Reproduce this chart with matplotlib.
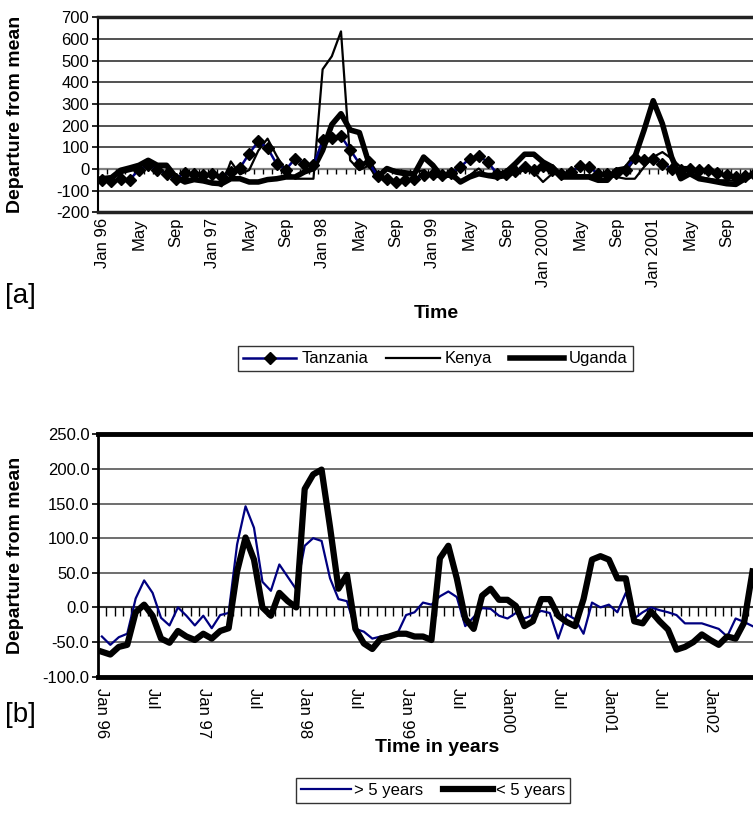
import numpy as np
import matplotlib
matplotlib.use("Agg")
import matplotlib.pyplot as plt
from matplotlib.lines import Line2D

plt.rcParams['font.family'] = ['Liberation Sans', 'DejaVu Sans']

# [a] месячные отклонения от среднего, Jan 96 - Dec 01
tanzania = [-49, -57, -45, -49, -3, 17, -3, -25, -45, -17, -25, -29, -25, -37, -14, 5,
            71, 128, 97, 22, -3, 48, 25, 17, 132, 145, 151, 89, 25, 32, -34, -45,
            -60, -49, -45, -29, -25, -30, -18, 9, 48, 60, 32, -22, -22, -9, 9, -3,
            12, -6, -22, -14, 12, 9, -22, -22, -17, -3, 51, 43, 48, 25, 2, -3,
            2, -3, -6, -18, -29, -37, -34, -22]
kenya = [-40, -50, -20, -10, 0, 15, 5, -20, -45, -40, -50, -55, -60, -80, 35, -25,
         -5, 85, 140, 60, -10, -45, -45, -45, 460, 520, 635, 40, -5, 15, -35, 0,
         -5, -10, -15, -6, -37, -34, -37, -60, -29, 2, -37, -45, -37, -18, -6, -14,
         -60, -22, -25, -22, -29, -29, -29, -34, -37, -45, -45, 9, 55, 78, 48, 9,
         9, -37, -45, -52, -52, -55, -37, -22]
uganda = [-45, -40, -6, 5, 17, 40, 17, 17, -37, -60, -49, -55, -65, -68, -45, -45,
          -60, -60, -49, -45, -37, -37, -14, 2, 86, 205, 255, 180, 168, 32, -37, 2,
          -14, -22, -22, 55, 17, -37, -22, -60, -37, -22, -30, -30, -14, 25, 68, 68,
          32, 9, -37, -37, -37, -37, -52, -52, -6, 2, 55, 179, 315, 209, 55, -45,
          -22, -45, -52, -60, -68, -71, -45, -22]
labels_a = ["Jan 96", "May", "Sep", "Jan 97", "May", "Sep", "Jan 98", "May", "Sep",
            "Jan 99", "May", "Sep", "Jan 2000", "May", "Sep", "Jan 2001", "May", "Sep"]
yticks_a = [-200, -100, 0, 100, 200, 300, 400, 500, 600, 700]

# [b] по возрастным группам
older = [-42, -54, -43, -38, 13, 39, 21, -15, -26, 0, -12, -26, -12, -30, -11, -8,
         91, 146, 115, 37, 24, 62, 44, 26, 89, 100, 96, 42, 12, 9, -31, -35,
         -45, -42, -40, -37, -11, -7, 7, 4, 16, 23, 15, -27, -14, -1, -2, -12,
         -16, -8, -16, -11, -5, -8, -45, -10, -17, -38, 7, 0, 4, -7, 21, -16,
         -7, 0, -4, -7, -11, -23, -23, -23, -27, -31, -42, -16, -21, -27]
younger = [-64, -68, -57, -54, -7, 4, -12, -45, -51, -34, -42, -47, -38, -45, -34, -30,
           52, 101, 69, 0, -12, 21, 9, 0, 171, 192, 199, 116, 27, 47, -31, -52,
           -60, -45, -42, -38, -38, -42, -42, -47, 71, 89, 42, -16, -31, 17, 27, 11,
           11, 2, -27, -20, 12, 12, -12, -21, -27, 12, 69, 74, 69, 42, 42, -20,
           -23, -6, -20, -32, -61, -57, -50, -39, -47, -54, -42, -45, -22, 52]
labels_b = ["Jan 96", "Jul", "Jan 97", "Jul", "Jan 98", "Jul", "Jan 99", "Jul",
            "Jan00", "Jul", "Jan01", "Jul", "Jan02"]
yticks_b = [-100, -50, 0, 50, 100, 150, 200, 250]

NAVY = '#000080'

fig = plt.figure(figsize=(7.53, 8.31), dpi=100)

# ---------- [a] ----------
ax1 = fig.add_axes([0.1297, 0.7445, 0.878, 0.2347])
n1 = len(uganda)
x1 = np.arange(n1)
ax1.plot(x1, tanzania, color=NAVY, lw=1.8, marker='D', ms=6, mfc='black', mec='black', zorder=4)
ax1.plot(x1, kenya, color='black', lw=1.6, zorder=3)
ax1.plot(x1, uganda, color='black', lw=4, zorder=3)
ax1.set_xlim(-0.5, n1 - 0.5)
ax1.set_ylim(-200, 700)
for v in yticks_a[1:-1]:
    if v != 0:
        ax1.axhline(v, color='#333333', lw=1.2, zorder=1)
ax1.axhline(0, color='#808080', lw=1.6, zorder=2)
# насечки по оси категорий на нуле
ax1.vlines(np.arange(n1 + 1) - 0.5, -24, 0, color='black', lw=1, zorder=2)
ax1.set_yticks(yticks_a)
ax1.set_yticklabels([str(v) for v in yticks_a], fontsize=12)
ax1.set_xticks(x1[::4])
ax1.set_xticklabels(labels_a, rotation=90, fontsize=12, va='top')
ax1.tick_params(axis='x', length=0, pad=4)
ax1.tick_params(axis='y', length=4, width=1.2, pad=2)
ax1.spines['right'].set_visible(False)
ax1.spines['top'].set_linewidth(2.5)
ax1.spines['bottom'].set_linewidth(2.5)
ax1.spines['top'].set_color('#222222')
ax1.spines['bottom'].set_color('#222222')
ax1.spines['left'].set_linewidth(1.5)

fig.text(0.021, 0.862, 'Departure from mean', rotation=90, fontsize=14, fontweight='bold',
         ha='center', va='center')
fig.text(0.580, 0.623, 'Time', fontsize=14, fontweight='bold', ha='center', va='center')
fig.text(0.027, 0.644, '[a]', fontsize=20, ha='center', va='center')

h1 = [Line2D([], [], color=NAVY, lw=1.8, marker='D', ms=6, mfc='black', mec='black'),
      Line2D([], [], color='black', lw=1.6),
      Line2D([], [], color='black', lw=4)]
leg1 = fig.legend(h1, ['Tanzania', 'Kenya', 'Uganda'], loc='center', bbox_to_anchor=(0.578, 0.568),
                  ncol=3, fontsize=12, frameon=True, fancybox=False, edgecolor='black',
                  handlelength=3.2, handletextpad=0.3, columnspacing=1.1, borderpad=0.3)
leg1.get_frame().set_linewidth(1.0)

# ---------- [b] ----------
ax2 = fig.add_axes([0.1297, 0.1857, 0.8753, 0.2917])
n2 = len(younger)
x2 = np.arange(n2)
ax2.plot(x2, older, color=NAVY, lw=1.6, zorder=3)
ax2.plot(x2, younger, color='black', lw=4.5, zorder=4)
ax2.set_xlim(-0.5, n2 - 0.5)
ax2.set_ylim(-100, 250)
for v in yticks_b[1:-1]:
    if v != 0:
        ax2.axhline(v, color='#555555', lw=1.2, zorder=1)
ax2.axhline(0, color='#333333', lw=1.5, zorder=2)
ax2.vlines(np.arange(n2 + 1) - 0.5, -12, 0, color='black', lw=1, zorder=2)
ax2.set_yticks(yticks_b)
ax2.set_yticklabels(['%.1f' % v for v in yticks_b], fontsize=12)
ax2.set_xticks(x2[::6])
ax2.set_xticklabels(labels_b, rotation=270, fontsize=12, va='top')
ax2.tick_params(axis='x', length=0, pad=8)
ax2.tick_params(axis='y', length=4, width=1.2, pad=2)
ax2.spines['right'].set_visible(False)
ax2.spines['top'].set_linewidth(3.5)
ax2.spines['bottom'].set_linewidth(3.5)
ax2.spines['left'].set_linewidth(2)

fig.text(0.021, 0.332, 'Departure from mean', rotation=90, fontsize=14, fontweight='bold',
         ha='center', va='center')
fig.text(0.580, 0.0999, 'Time in years', fontsize=14, fontweight='bold', ha='center', va='center')
fig.text(0.027, 0.140, '[b]', fontsize=20, ha='center', va='center')

h2 = [Line2D([], [], color=NAVY, lw=1.6), Line2D([], [], color='black', lw=4.5)]
leg2 = fig.legend(h2, ['> 5 years', '< 5 years'], loc='center', bbox_to_anchor=(0.575, 0.049),
                  ncol=2, fontsize=12, frameon=True, fancybox=False, edgecolor='black',
                  handlelength=3, handletextpad=0.2, columnspacing=1.2, borderpad=0.3)
leg2.get_frame().set_linewidth(1.0)

fig.savefig('out.png', dpi=100)
